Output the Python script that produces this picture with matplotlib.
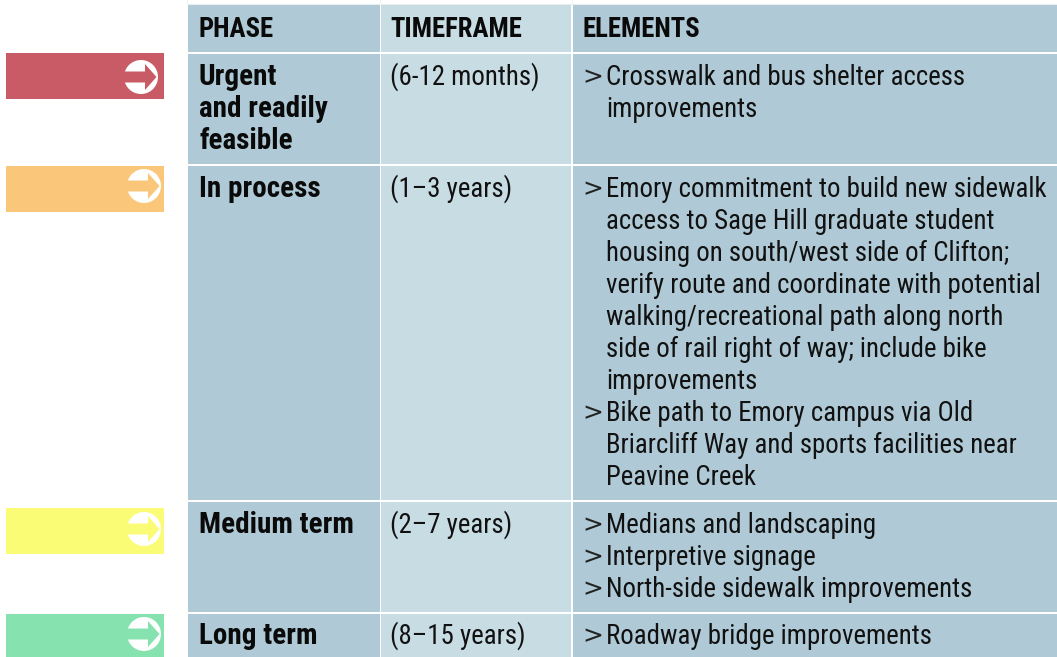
import matplotlib
matplotlib.use("Agg")
import matplotlib.pyplot as plt
from matplotlib.patches import Rectangle, Circle, Polygon

FONT = ['Roboto Condensed', 'Archivo Narrow', 'Liberation Sans']

headers = ["PHASE", "TIMEFRAME", "ELEMENTS"]
phases = ["Urgent\nand readily\nfeasible", "In process", "Medium term", "Long term"]
timeframes = ["(6-12 months)", "(1–3 years)", "(2–7 years)", "(8–15 years)"]
elements = [
    [["Crosswalk and bus shelter access", "improvements"]],
    [["Emory commitment to build new sidewalk", "access to Sage Hill graduate student",
      "housing on south/west side of Clifton;", "verify route and coordinate with potential",
      "walking/recreational path along north", "side of rail right of way; include bike", "improvements"],
     ["Bike path to Emory campus via Old", "Briarcliff Way and sports facilities near", "Peavine Creek"]],
    [["Medians and landscaping"], ["Interpretive signage"], ["North-side sidewalk improvements"]],
    [["Roadway bridge improvements"]],
]
swatches = ["#c95b66", "#fac67a", "#fbfc76", "#86e3af"]

W, H = 1057, 657
col_x = [(188, 379.5), (381, 571), (573, 1057)]
row_y = [(5, 51.5), (54, 163.5), (166, 499.5), (502, 611.5), (614, 657)]
sw_y = [(53, 99), (166, 212), (508, 554), (614, 657)]
circ = [(141, 77), (144, 186), (144, 529), (144, 634)]
BLUE, LIGHT = "#afcad6", "#c8dce4"
LH = 32.0

fig = plt.figure(figsize=(W/100, H/100), dpi=100)
ax = fig.add_axes([0, 0, 1, 1])
ax.set_xlim(0, W); ax.set_ylim(H, 0); ax.axis("off")

# faint rule above the table and stubs of the column gaps
ax.add_patch(Rectangle((188, 3.5), W-188, 1.5, fc="#e9eef0", ec="none"))
for gx in (187, 380, 572):
    ax.add_patch(Rectangle((gx-0.5, 0), 1, 5, fc="#eef1f2", ec="none"))

for (y0, y1) in row_y:
    for i, (x0, x1) in enumerate(col_x):
        ax.add_patch(Rectangle((x0, y0), x1-x0, y1-y0, fc=LIGHT if i == 1 else BLUE, ec="none"))

for (y0, y1), c, (cx, cy) in zip(sw_y, swatches, circ):
    ax.add_patch(Rectangle((6, y0), 158, y1-y0, fc=c, ec="none"))
    ax.add_patch(Circle((cx, cy), 17, fc="white", ec="none", zorder=3))
    ax.add_patch(Polygon([(cx-18, cy-5.5), (cx+4, cy-5.5), (cx+4, cy-13), (cx+15.5, cy),
                          (cx+4, cy+13), (cx+4, cy+5.5), (cx-18, cy+5.5)],
                         closed=True, fc=c, ec="none", zorder=4))

head = dict(family=FONT, weight="bold", fontsize=19.3, color="#0a0a0a", va="baseline")
bold = dict(family=FONT, weight="bold", fontsize=21, color="#0a0a0a", va="baseline")
reg = dict(family=FONT, fontsize=19.4, color="#111111", va="baseline")

for h, x in zip(headers, [199, 390.5, 583]):
    ax.text(x, 37, h, **head)

phase_base = [85, 197, 533, 644]
for p, y in zip(phases, phase_base):
    for k, line in enumerate(p.split("\n")):
        ax.text(199, y + k*LH, line, **bold)
for t, y in zip(timeframes, phase_base):
    ax.text(390.5, y, t, **reg)
for items, y in zip(elements, phase_base):
    k = 0
    for item in items:
        ax.text(582.5, y + k*LH - 1, ">", family="DejaVu Sans", fontsize=18, color="#222222", va="baseline")
        for line in item:
            ax.text(606.5, y + k*LH, line, **reg)
            k += 1

fig.savefig("out.png", dpi=100)
